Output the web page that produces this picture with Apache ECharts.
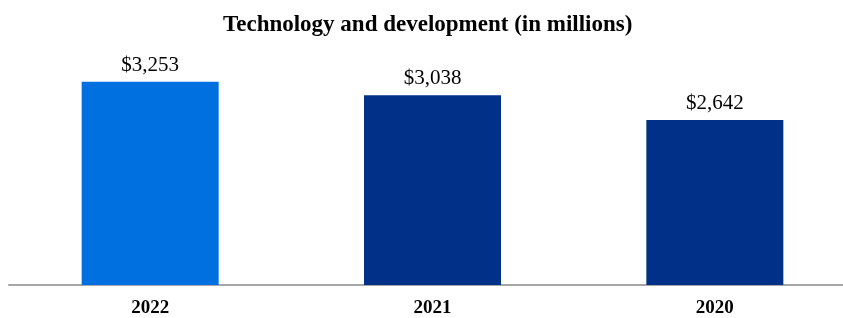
<!DOCTYPE html>
<html>
<head>
<meta charset="utf-8">
<script src="https://cdn.jsdelivr.net/npm/echarts@6/dist/echarts.min.js"></script>
<style>
  html, body { margin: 0; padding: 0; background: #fff; overflow: hidden; }
  #chart { width: 860px; height: 318px; }
</style>
</head>
<body>
<div id="chart"></div>
<script>
// Technology and development spend, in millions
const years = ['2022', '2021', '2020'];
const spend = [3253, 3038, 2642];
const barColors = ['#0070E0', '#003087', '#003087'];

const serif = '"Liberation Serif", "Times New Roman", serif';

// canvas runs a bit past the window so the category band matches the original layout
const chart = echarts.init(document.getElementById('chart'));

chart.setOption({
    backgroundColor: '#fff',
    animation: false,
    title: {
        text: 'Technology and development (in millions)',
        left: 218,
        top: 9,
        textStyle: { fontFamily: serif, fontWeight: 'bold', fontSize: 23, color: '#000' },
    },
    grid: { left: 9, right: 4, top: 35, bottom: 32 },
    xAxis: {
        type: 'category',
        data: years,
        axisLine: { lineStyle: { color: '#A6A6A6', width: 2 } },
        axisTick: { show: false },
        axisLabel: { fontFamily: serif, fontWeight: 'bold', fontSize: 19, color: '#000', margin: 14 },
    },
    yAxis: {
        type: 'value',
        min: 0,
        max: 4000,
        show: false,
        splitLine: { show: false },
    },
    series: [{
        type: 'bar',
        barWidth: 137,
        data: spend.map((v, i) => ({ value: v, itemStyle: { color: barColors[i] } })),
        label: {
            show: true,
            position: 'top',
            distance: 6,
            fontFamily: serif,
            fontSize: 21,
            color: '#000',
            formatter: p => '$' + p.value.toLocaleString('en-US'),
        },
    }],
});
</script>
</body>
</html>
